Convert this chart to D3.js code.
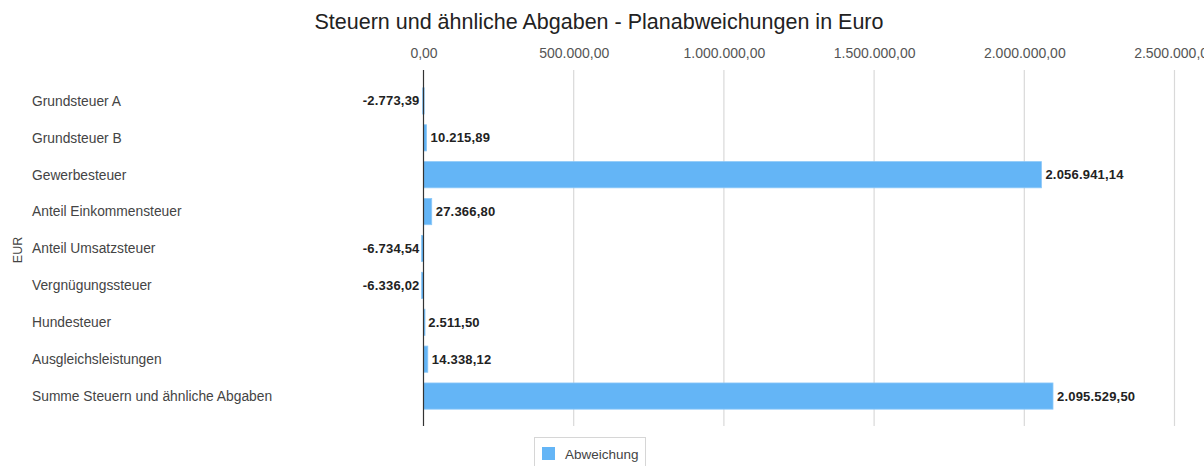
<html>
<head>
<meta charset="utf-8">
<script src="https://d3js.org/d3.v7.min.js"></script>
<style>
  body { margin: 0; background: #fff; }
  svg { font-family: "Liberation Sans", Arial, sans-serif; }
</style>
</head>
<body>
<svg width="1204" height="466" id="chart1"></svg>
<script>
  // data
  var categories = ["Grundsteuer A", "Grundsteuer B", "Gewerbesteuer", "Anteil Einkommensteuer",
    "Anteil Umsatzsteuer", "Vergnügungssteuer", "Hundesteuer", "Ausgleichsleistungen",
    "Summe Steuern und ähnliche Abgaben"];
  var values = [-2773.39, 10215.89, 2056941.14, 27366.80, -6734.54, -6336.02, 2511.50, 14338.12, 2095529.50];
  var ticks = [0, 500000, 1000000, 1500000, 2000000, 2500000];
  var seriesName = "Abweichung";

  var svg = d3.select("#chart1");
  var loc = d3.formatLocale({decimal: ",", thousands: ".", grouping: [3], currency: ["", " €"], minus: "-"});
  var fmt = loc.format(",.2f");

  var x = d3.scaleLinear().domain([0, 2500000]).range([423.5, 1174.5]);
  var y = d3.scaleBand().domain(categories).range([82.5, 414.5]).paddingInner(0.29).paddingOuter(0.145);

  // title
  svg.append("text")
    .attr("x", 599).attr("y", 29)
    .attr("text-anchor", "middle")
    .style("font-size", "21.5px")
    .style("fill", "#222")
    .text("Steuern und ähnliche Abgaben - Planabweichungen in Euro");

  // grid lines
  svg.append("g").selectAll("line").data(ticks.slice(1)).enter()
    .append("line")
      .attr("x1", function(d) { return x(d); })
      .attr("x2", function(d) { return x(d); })
      .attr("y1", 70).attr("y2", 426)
      .attr("stroke", "#d9d9d9")
      .attr("stroke-width", 1.2);

  // top axis labels
  var ax = svg.append("g")
    .attr("transform", "translate(0,70)")
    .call(d3.axisTop(x).tickValues(ticks).tickFormat(fmt).tickSize(0).tickPadding(12));
  ax.select(".domain").remove();
  ax.selectAll("text").style("font-size", "14px").style("fill", "#555").style("font-family", "Liberation Sans, Arial, sans-serif");

  // bars
  svg.append("g").selectAll("rect").data(values).enter()
    .append("rect")
      .attr("x", function(d) { return Math.min(x(0), x(d)); })
      .attr("y", function(d, i) { return y(categories[i]); })
      .attr("width", function(d) { return Math.max(1.5, Math.abs(x(d) - x(0))); })
      .attr("height", y.bandwidth())
      .attr("fill", "#64b5f6")
      .attr("stroke", "#8cc8f8")
      .attr("stroke-width", 0.8);

  // zero line
  svg.append("line")
    .attr("x1", x(0)).attr("x2", x(0))
    .attr("y1", 70).attr("y2", 426)
    .attr("stroke", "#333").attr("stroke-width", 1.2);

  // value labels
  svg.append("g").selectAll("text").data(values).enter()
    .append("text")
      .attr("x", function(d) { return d < 0 ? x(0) - 4 : x(d) + 4; })
      .attr("y", function(d, i) { return y(categories[i]) + y.bandwidth() / 2; })
      .attr("dy", "0.35em")
      .attr("text-anchor", function(d) { return d < 0 ? "end" : "start"; })
      .style("font-size", "13px")
      .style("font-weight", "bold")
      .style("letter-spacing", "0.2px")
      .style("fill", "#222")
      .text(function(d) { return fmt(d); });

  // category labels
  svg.append("g").selectAll("text").data(categories).enter()
    .append("text")
      .attr("x", 32)
      .attr("y", function(d) { return y(d) + y.bandwidth() / 2; })
      .attr("dy", "0.35em")
      .style("font-size", "13.8px")
      .style("fill", "#444")
      .text(function(d) { return d; });

  // y axis title
  svg.append("text")
    .attr("transform", "translate(22,250) rotate(-90)")
    .attr("text-anchor", "middle")
    .style("font-size", "12.5px")
    .style("fill", "#444")
    .text("EUR");

  // legend
  var lg = svg.append("g").attr("transform", "translate(534,437)");
  lg.append("rect").attr("x", 0.5).attr("y", 0.5).attr("width", 111).attr("height", 34)
    .attr("fill", "#fff").attr("stroke", "#d6d6d6");
  lg.append("rect").attr("x", 8).attr("y", 10).attr("width", 13).attr("height", 13).attr("fill", "#64b5f6");
  lg.append("text").attr("x", 31).attr("y", 17).attr("dy", "0.35em")
    .style("font-size", "13.5px").style("fill", "#444").text(seriesName);
</script>
</body>
</html>
